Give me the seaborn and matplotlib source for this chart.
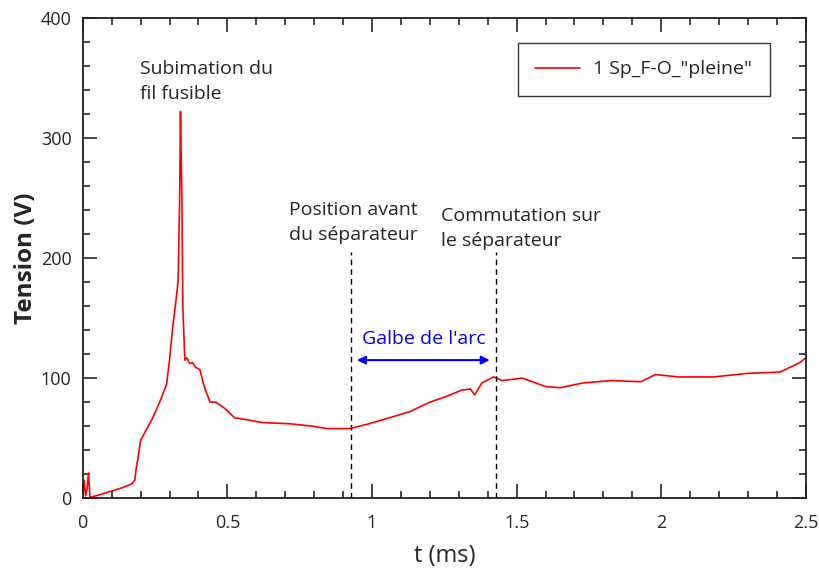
import numpy as np
import pandas as pd
import matplotlib
matplotlib.use("Agg")
import matplotlib.pyplot as plt
from matplotlib.ticker import MultipleLocator
import seaborn as sns

# données
t_ms = [0, 0.005, 0.01, 0.015, 0.02, 0.025, 0.03, 0.06, 0.10, 0.14, 0.17, 0.18,
        0.185, 0.19, 0.20, 0.215, 0.24, 0.266, 0.29, 0.30, 0.31, 0.32, 0.325,
        0.33, 0.335, 0.338, 0.340, 0.343, 0.346, 0.353, 0.36, 0.37, 0.38, 0.39,
        0.405, 0.42, 0.44, 0.46, 0.49, 0.525, 0.577, 0.62, 0.716, 0.795, 0.843,
        0.923, 0.99, 1.06, 1.13, 1.20, 1.26, 1.31, 1.34, 1.355, 1.38, 1.42, 1.45,
        1.52, 1.60, 1.65, 1.73, 1.83, 1.93, 1.98, 2.06, 2.18, 2.30, 2.41,
        2.48, 2.5]
tension_v = [0, 15, 2, 8, 21, 1, 1, 3, 6, 9, 12, 15,
             25, 32, 48, 55, 66, 80, 95, 115, 140, 160, 170,
             182, 250, 322, 290, 247, 160, 115, 117, 112, 113, 109,
             107, 93, 80, 80, 75, 67, 65, 63, 62, 60, 58,
             58, 62, 67, 72, 80, 85, 90, 91, 86, 96, 101, 98,
             100, 93, 92, 96, 98, 97, 103, 101, 101, 104, 105,
             113, 117]
serie_label = '1 Sp_F-O_"pleine"'

x_ticks = [0, 0.5, 1, 1.5, 2, 2.5]
x_ticklabels = ["0", "0.5", "1", "1.5", "2", "2.5"]
y_ticks = [0, 100, 200, 300, 400]

t_position = 0.927
t_commutation = 1.428
v_marqueurs = 205
arc_debut, arc_fin, v_arc = 0.948, 1.407, 115

df = pd.DataFrame({"t": t_ms, "V": tension_v})

sns.set_style("ticks")
plt.rcParams['font.family'] = ['Open Sans', 'DejaVu Sans']

fig = plt.figure(figsize=(8.19, 5.76), dpi=100)
ax = fig.add_axes([0.101, 0.135, 0.883, 0.834])

sns.lineplot(data=df, x="t", y="V", color="red", linewidth=1.2,
             sort=False, estimator=None, label=serie_label, ax=ax)

# lignes verticales pointillées
ax.plot([t_position, t_position], [0, v_marqueurs], ls=(0, (4, 3)), color="black", lw=1)
ax.plot([t_commutation, t_commutation], [0, v_marqueurs], ls=(0, (4, 3)), color="black", lw=1)

# flèche galbe de l'arc
ax.annotate("", xy=(arc_debut, v_arc), xytext=(arc_fin, v_arc),
            arrowprops=dict(arrowstyle="<|-|>", color="blue", lw=1.5,
                            mutation_scale=12, shrinkA=0, shrinkB=0))
ax.text((arc_debut + arc_fin) / 2, v_arc + 10, "Galbe de l'arc", color="blue",
        ha="center", va="bottom", fontsize=14)

ax.text(0.197, 347, "Subimation du\nfil fusible", fontsize=14, ha="left", va="center",
        linespacing=1.5)
ax.text(0.712, 230, "Position avant\ndu séparateur", fontsize=14, ha="left", va="center",
        linespacing=1.5)
ax.text(1.238, 225, "Commutation sur\nle séparateur", fontsize=14, ha="left", va="center",
        linespacing=1.5)

ax.set_xlim(0, 2.5)
ax.set_ylim(0, 400)
ax.set_xticks(x_ticks)
ax.set_xticklabels(x_ticklabels)
ax.set_yticks(y_ticks)
ax.xaxis.set_minor_locator(MultipleLocator(0.1))
ax.yaxis.set_minor_locator(MultipleLocator(20))
ax.tick_params(which="both", direction="in", top=True, right=True, labelsize=13, width=1.2)
ax.tick_params(which="major", length=10)
ax.tick_params(axis="x", which="major", pad=11)
ax.tick_params(axis="y", which="major", pad=8)
ax.tick_params(which="minor", length=5)
for s in ax.spines.values():
    s.set_linewidth(1.3)
    s.set_color("#222222")

ax.set_xlabel("t (ms)", fontsize=17, labelpad=9)
ax.set_ylabel("Tension (V)", fontsize=17.5, fontweight="bold", labelpad=2)

leg = ax.legend(loc="upper right", bbox_to_anchor=(0.950, 0.948), fontsize=14,
                frameon=True, fancybox=False, edgecolor="black", handlelength=2.3,
                handletextpad=0.7, borderpad=0.9, borderaxespad=0)
leg.get_frame().set_linewidth(1.0)

fig.savefig("out.png", dpi=100)
